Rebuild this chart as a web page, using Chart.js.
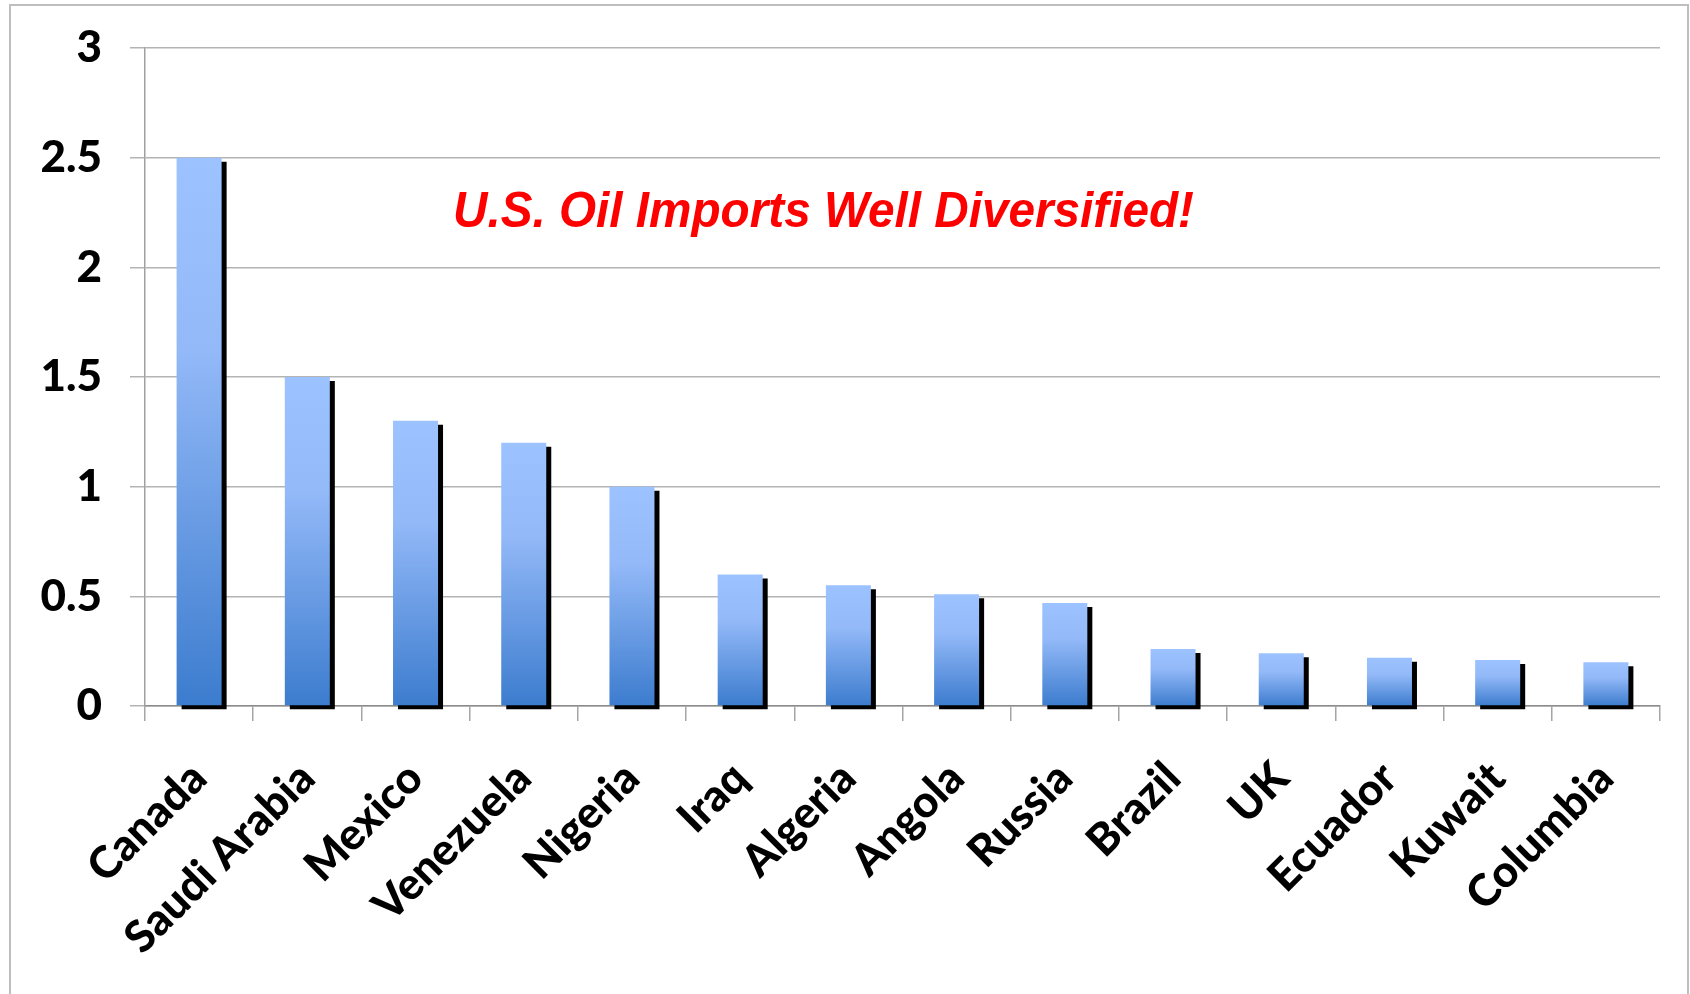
<!DOCTYPE html>
<html>
<head>
<meta charset="utf-8">
<style>
  html, body { margin: 0; padding: 0; background: #fff; }
  #wrap { width: 1690px; height: 994px; }
</style>
<script src="https://cdn.jsdelivr.net/npm/chart.js"></script>
</head>
<body>
<div id="wrap"><canvas id="oilChart" width="1690" height="994"></canvas></div>
<script>
// US crude imports by source country (million barrels per day)
const countries = ['Canada', 'Saudi Arabia', 'Mexico', 'Venezuela', 'Nigeria', 'Iraq', 'Algeria',
                   'Angola', 'Russia', 'Brazil', 'UK', 'Ecuador', 'Kuwait', 'Columbia'];
const imports = [2.5, 1.5, 1.3, 1.2, 1.0, 0.6, 0.55, 0.51, 0.47, 0.26, 0.24, 0.22, 0.21, 0.2];
const yMin = 0, yMax = 3, yStep = 0.5;
const headline = 'U.S. Oil Imports Well Diversified!';

const labelFont = { family: 'Lato', size: 44, weight: 900 };

// light-to-dark blue fill, one gradient per bar
function barGradient(c) {
  const chart = c.chart;
  if (!chart.chartArea || c.raw === undefined) return '#8FB5F5';
  const y = chart.scales.y;
  const top = y.getPixelForValue(c.raw);
  const base = y.getPixelForValue(0);
  const g = chart.ctx.createLinearGradient(0, top, 0, base);
  g.addColorStop(0, '#9CC2FF');
  g.addColorStop(0.35, '#93B9F8');
  g.addColorStop(1, '#3C7CCE');
  return g;
}

// hard black drop shadow under the bars
const barShadow = {
  id: 'barShadow',
  beforeDatasetDraw(chart) {
    const ctx = chart.ctx;
    ctx.save();
    ctx.shadowColor = '#000';
    ctx.shadowBlur = 0;
    ctx.shadowOffsetX = 5;
    ctx.shadowOffsetY = 4;
  },
  afterDatasetDraw(chart) {
    chart.ctx.restore();
  }
};

// white page with a thin gray frame
const frame = {
  id: 'frame',
  beforeDraw(chart) {
    const ctx = chart.ctx;
    ctx.save();
    ctx.fillStyle = '#fff';
    ctx.fillRect(0, 0, chart.width, chart.height);
    ctx.strokeStyle = '#BEBEBE';
    ctx.lineWidth = 2;
    ctx.beginPath();
    ctx.moveTo(10, chart.height);
    ctx.lineTo(10, 5);
    ctx.lineTo(1688, 5);
    ctx.lineTo(1688, chart.height);
    ctx.stroke();
    ctx.restore();
  }
};

// red italic headline inside the plot
const headlineText = {
  id: 'headlineText',
  afterDatasetsDraw(chart) {
    const ctx = chart.ctx;
    ctx.save();
    ctx.font = 'italic bold 50px "Liberation Sans", Arial, sans-serif';
    ctx.fillStyle = '#FF0000';
    ctx.textBaseline = 'alphabetic';
    ctx.textAlign = 'left';
    const w = ctx.measureText(headline).width;
    const target = 741;
    ctx.translate(453, 227);
    ctx.scale(target / w, 1);
    ctx.fillText(headline, 0, 0);
    ctx.restore();
  }
};

new Chart(document.getElementById('oilChart'), {
  type: 'bar',
  data: {
    labels: countries,
    datasets: [{
      data: imports,
      backgroundColor: barGradient,
      borderWidth: 0,
      barPercentage: 0.416,
      categoryPercentage: 1,
      clip: false
    }]
  },
  options: {
    responsive: false,
    devicePixelRatio: 1,
    animation: false,
    layout: { padding: { top: 48, right: 30, left: 0, bottom: 0 } },
    plugins: {
      legend: { display: false },
      title: { display: false },
      tooltip: { enabled: false }
    },
    scales: {
      x: {
        grid: {
          display: true,
          drawOnChartArea: false,
          drawTicks: true,
          tickLength: 15,
          color: '#A6A6A6',
          lineWidth: 1.5
        },
        border: { color: '#8C8C8C', width: 1.5 },
        ticks: {
          color: '#000',
          font: labelFont,
          minRotation: 45,
          maxRotation: 45,
          autoSkip: false,
          padding: 31
        },
        afterFit(scale) { scale.height = 288; }
      },
      y: {
        min: yMin,
        max: yMax,
        grid: {
          color: '#B4B4B4',
          lineWidth: 1.5,
          tickLength: 15
        },
        border: { color: '#A0A0A0', width: 1.5 },
        ticks: {
          stepSize: yStep,
          color: '#000',
          font: labelFont,
          padding: 28,
          callback: v => String(v)
        },
        afterFit(scale) {
          scale.width = 145;
          // the top label may sit close to the frame
          scale.paddingTop = 0;
          scale.paddingBottom = 0;
        }
      }
    }
  },
  plugins: [frame, barShadow, headlineText]
});
</script>
</body>
</html>
